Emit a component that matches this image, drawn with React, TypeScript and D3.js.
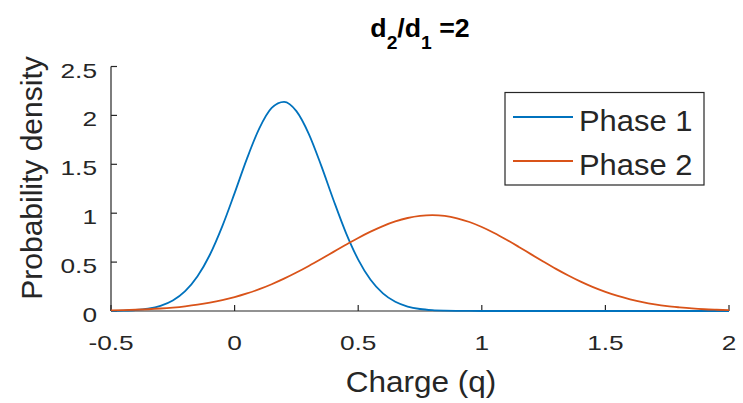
import React from "react";
import * as d3 from "d3";

const chargeValues = [
  -0.5, -0.45, -0.4, -0.35, -0.3, -0.25, -0.2, -0.15, -0.1, -0.05,
  0, 0.05, 0.1, 0.15, 0.2, 0.25, 0.3, 0.35, 0.4, 0.45,
  0.5, 0.55, 0.6, 0.65, 0.7, 0.75, 0.8, 0.85, 0.9, 0.95,
  1.0, 1.05, 1.1, 1.15, 1.2, 1.25, 1.3, 1.35, 1.4, 1.45,
  1.5, 1.55, 1.6, 1.65, 1.7, 1.75, 1.8, 1.85, 1.9, 1.95, 2.0,
];

const phase1Density = [
  0.0015, 0.004, 0.0102, 0.0242, 0.053, 0.1077, 0.203, 0.355, 0.575, 0.865,
  1.205, 1.558, 1.867, 2.076, 2.139, 2.044, 1.812, 1.489, 1.135, 0.802,
  0.526, 0.319, 0.18, 0.094, 0.0456, 0.0205, 0.0085, 0.0033, 0.0012, 0.0004,
  0.0001, 0, 0, 0, 0, 0, 0, 0, 0, 0,
  0, 0, 0, 0, 0, 0, 0, 0, 0, 0, 0,
];

const phase2Density = [
  0.006, 0.0088, 0.0127, 0.0181, 0.0254, 0.0352, 0.0479, 0.0643, 0.085, 0.1106,
  0.142, 0.1794, 0.2233, 0.2738, 0.3307, 0.3933, 0.4608, 0.5318, 0.6047, 0.6771,
  0.7469, 0.8114, 0.8686, 0.9156, 0.9509, 0.9726, 0.98, 0.972, 0.948, 0.91,
  0.859, 0.798, 0.729, 0.655, 0.579, 0.504, 0.431, 0.363, 0.3, 0.244,
  0.196, 0.154, 0.12, 0.091, 0.068, 0.05, 0.037, 0.026, 0.018, 0.013, 0.009,
];

const xTicks = [-0.5, 0, 0.5, 1, 1.5, 2];
const xTickLabels = ["-0.5", "0", "0.5", "1", "1.5", "2"];
const yTicks = [0, 0.5, 1, 1.5, 2, 2.5];
const yTickLabels = ["0", "0.5", "1", "1.5", "2", "2.5"];
const seriesNames = ["Phase 1", "Phase 2"];
const seriesColors = ["#0072BD", "#D95319"];

const W = 743;
const H = 403;
const FONT = "'Liberation Sans', Arial, Helvetica, sans-serif";
const INK = "#262626";

export default function App() {
  const x = d3.scaleLinear().domain([-0.5, 2]).range([111, 729]);
  const y = d3.scaleLinear().domain([0, 2.5]).range([311, 66.5]);

  const series = [phase1Density, phase2Density];
  const line = d3
    .line<number>()
    .x((_, i) => x(chargeValues[i]))
    .y((d) => y(d))
    .curve(d3.curveMonotoneX);

  const [x0, x1] = x.range();
  const [y0, y1] = y.range();

  return (
    <svg
      width={W}
      height={H}
      style={{ position: "absolute", left: 0, top: 0, background: "#fff" }}
      fontFamily={FONT}
    >
      <rect x={0} y={0} width={W} height={H} fill="#fff" />
      {/* title */}
      <text
        transform={`translate(${(x0 + x1) / 2},37) scale(1.07,1)`}
        textAnchor="middle"
        fontWeight="bold"
        fontSize={25}
        fill="#000"
      >
        d<tspan dy={12} fontSize={18}>2</tspan>
        <tspan dy={-12}>/d</tspan>
        <tspan dy={12} fontSize={18}>1</tspan>
        <tspan dy={-12}> =2</tspan>
      </text>

      {/* axes */}
      <g stroke={INK} strokeWidth={1.2} fill="none">
        <line x1={x0} x2={x1} y1={y0} y2={y0} />
        <line x1={x0} x2={x0} y1={y0} y2={y1} />
        {xTicks.map((t) => (
          <line key={"xt" + t} x1={x(t)} x2={x(t)} y1={y0} y2={y0 - 6} />
        ))}
        {yTicks.map((t) => (
          <line key={"yt" + t} x1={x0} x2={x0 + 6} y1={y(t)} y2={y(t)} />
        ))}
      </g>
      {xTicks.map((t, i) => (
        <text
          key={"xl" + t}
          transform={`translate(${x(t)},350) scale(1.25,1)`}
          textAnchor="middle"
          fontSize={21}
          fill={INK}
        >
          {xTickLabels[i]}
        </text>
      ))}
      {yTicks.map((t, i) => (
        <text
          key={"yl" + t}
          transform={`translate(97,${y(t) + 11}) scale(1.25,1)`}
          textAnchor="end"
          fontSize={21}
          fill={INK}
        >
          {yTickLabels[i]}
        </text>
      ))}

      {/* axis labels */}
      <text
        transform={`translate(421,392) scale(1.05,1)`}
        textAnchor="middle"
        fontSize={30}
        fill={INK}
      >
        Charge (q)
      </text>
      <text
        transform={`translate(42,178) rotate(-90)`}
        textAnchor="middle"
        fontSize={30}
        fill={INK}
      >
        Probability density
      </text>

      {/* curves */}
      {series.map((s, i) => (
        <path
          key={"s" + i}
          d={line(s) || ""}
          fill="none"
          stroke={seriesColors[i]}
          strokeWidth={1.8}
        />
      ))}

      {/* legend */}
      <rect
        x={505}
        y={92.5}
        width={199}
        height={92.5}
        fill="#fff"
        stroke={INK}
        strokeWidth={1.2}
      />
      {seriesNames.map((n, i) => (
        <g key={"lg" + i}>
          <line
            x1={513}
            x2={573}
            y1={117 + i * 44}
            y2={117 + i * 44}
            stroke={seriesColors[i]}
            strokeWidth={1.8}
          />
          <text
            transform={`translate(579,${131 + i * 44}) scale(1.03,1)`}
            fontSize={30}
            fill={INK}
          >
            {n}
          </text>
        </g>
      ))}
    </svg>
  );
}
